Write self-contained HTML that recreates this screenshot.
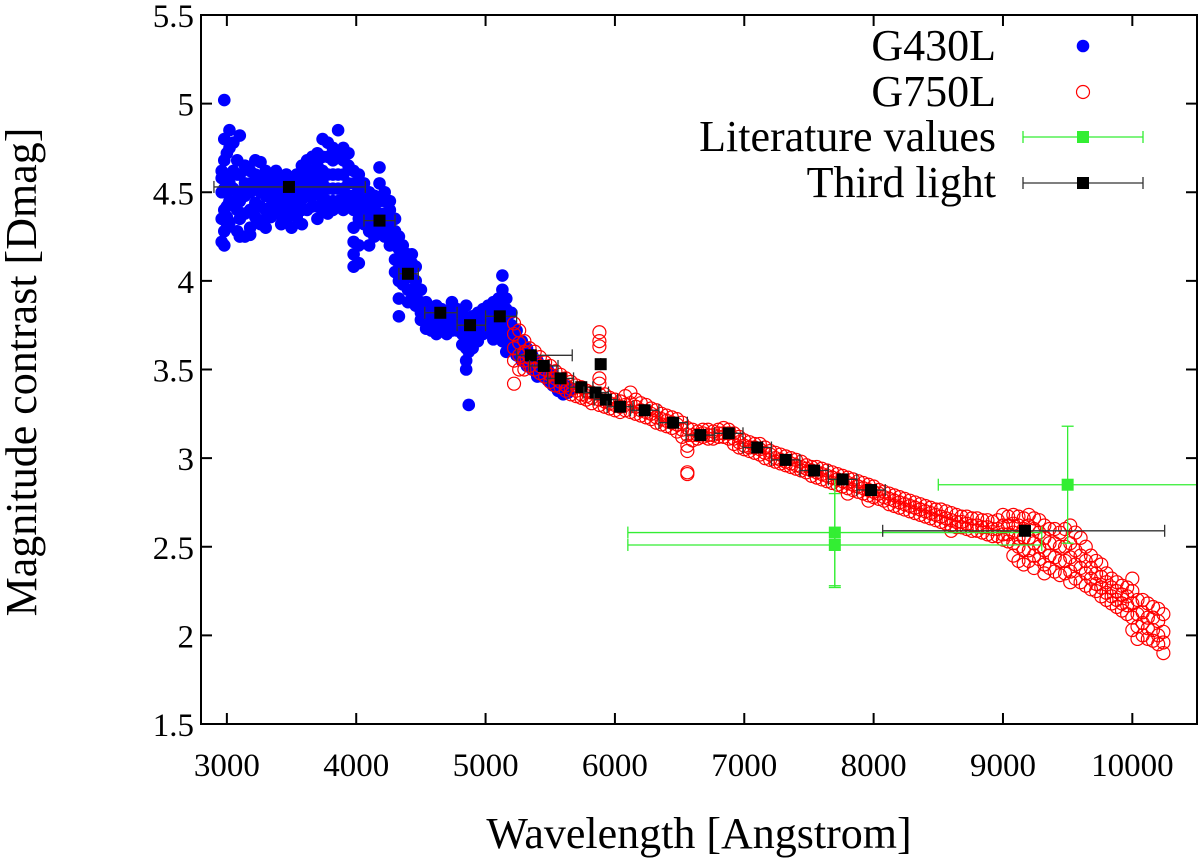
<!DOCTYPE html>
<html><head><meta charset="utf-8">
<style>
html,body{margin:0;padding:0;background:#fff;}
svg{display:block;font-family:"Liberation Serif",serif;}
</style></head>
<body>
<svg id="chart" width="1200" height="865" viewBox="0 0 1200 865" xmlns="http://www.w3.org/2000/svg">
<g id="marks"></g>
<g id="axes"></g>
<g id="legend"></g>
</svg>
<script>
const xTicks=[3000,4000,5000,6000,7000,8000,9000,10000];
const yTicks=[1.5,2,2.5,3,3.5,4,4.5,5,5.5];
const blueCols=[
[2960,4.22,4.35,4.5,4.62,4.58],[2980,5.02,4.8,4.68,4.52,4.4,4.28,4.2],[3000,4.72,4.6,4.5,4.42,4.36,4.3],
[3020,4.85,4.75,4.55,4.45,4.33],[3050,4.78,4.62,4.52,4.44],[3080,4.68,4.6,4.5,4.4,4.28],
[3100,4.82,4.6,4.5,4.45,4.35,4.25],[3140,4.65,4.55,4.48,4.38,4.25],[3180,4.62,4.55,4.5,4.4,4.3,4.26],
[3220,4.68,4.6,4.52,4.44,4.36],[3260,4.67,4.58,4.5,4.42,4.32],[3300,4.62,4.55,4.48,4.4,4.35,4.3],
[3340,4.6,4.55,4.5,4.42,4.36],[3380,4.62,4.56,4.5,4.45,4.38],[3420,4.58,4.52,4.47,4.4,4.32],
[3460,4.6,4.54,4.48,4.42,4.35],[3500,4.57,4.52,4.46,4.4,4.3],[3540,4.6,4.55,4.5,4.43,4.36],
[3580,4.65,4.58,4.52,4.46,4.4,4.32],[3620,4.68,4.6,4.54,4.48,4.4],[3660,4.7,4.62,4.55,4.48,4.42],
[3700,4.72,4.65,4.58,4.5,4.42,4.35],[3740,4.8,4.7,4.62,4.55,4.47,4.4],[3780,4.78,4.7,4.6,4.52,4.45,4.38],
[3820,4.75,4.68,4.6,4.52,4.45,4.4],[3860,4.85,4.7,4.6,4.52,4.45,4.42],[3900,4.75,4.68,4.6,4.52,4.46,4.4],
[3940,4.72,4.65,4.55,4.48,4.42],[3980,4.62,4.55,4.48,4.4,4.3,4.22,4.15,4.08],[4020,4.6,4.52,4.45,4.4,4.35,4.2,4.1],
[4060,4.55,4.5,4.45,4.4,4.32],[4100,4.5,4.45,4.4,4.35,4.28,4.2],[4140,4.48,4.42,4.38,4.32,4.25],
[4180,4.64,4.55,4.45,4.38,4.3],[4220,4.5,4.45,4.38,4.3,4.25],[4260,4.45,4.4,4.33,4.26,4.2],
[4300,4.35,4.28,4.2,4.12,4.05],[4330,4.25,4.18,4.1,4.0,3.9,3.8],[4360,4.2,4.12,4.05,3.98],
[4400,4.15,4.08,4.02,3.95,3.88],[4430,4.15,4.1,4.02,3.95,3.9],[4460,4.08,4.0,3.93,3.86],
[4500,3.95,3.88,3.82,3.78],[4540,3.88,3.84,3.8,3.76,3.73],[4580,3.85,3.8,3.76,3.72],
[4620,3.86,3.82,3.78,3.74,3.7],[4660,3.84,3.8,3.76,3.72],[4700,3.83,3.78,3.74,3.7],
[4740,3.88,3.82,3.78,3.74,3.72],[4780,3.84,3.8,3.76,3.72],[4820,3.82,3.76,3.7,3.64],
[4850,3.86,3.78,3.7,3.62,3.55,3.5],[4870,3.75,3.65,3.6,3.3],[4900,3.8,3.74,3.68,3.62],
[4940,3.82,3.78,3.72,3.66],[4980,3.84,3.8,3.74,3.7],[5020,3.86,3.8,3.76,3.72],
[5060,3.88,3.82,3.76,3.72,3.67],[5100,3.9,3.85,3.8,3.75,3.7],[5130,4.03,3.95,3.88,3.8,3.74,3.66],
[5160,3.9,3.84,3.78,3.72,3.65,3.6],[5200,3.82,3.75,3.7,3.62],[5240,3.72,3.67,3.62,3.58],
[5280,3.66,3.62,3.58,3.55],[5320,3.62,3.58,3.55,3.52],[5360,3.58,3.55,3.52,3.5],
[5400,3.55,3.52,3.49,3.46],[5440,3.52,3.49,3.46],[5480,3.5,3.47,3.44],[5520,3.47,3.44,3.41],
[5560,3.44,3.41,3.38],[5600,3.42,3.39,3.36],[5640,3.4,3.37]];
const redCols=[
[5220,3.76,3.7,3.62,3.55,3.42],[5260,3.72,3.65,3.58,3.5],[5300,3.66,3.6,3.55,3.5],[5340,3.62,3.57,3.52],
[5380,3.6,3.55,3.5],[5420,3.57,3.52,3.48],[5460,3.54,3.5,3.46],[5500,3.52,3.47,3.43],[5540,3.49,3.45,3.41],
[5580,3.47,3.43,3.4],[5620,3.45,3.41,3.38],[5660,3.43,3.39,3.36],[5700,3.41,3.38,3.35],[5740,3.4,3.36,3.34],
[5780,3.38,3.35,3.33],[5820,3.37,3.34,3.31],[5880,3.71,3.66,3.63,3.45,3.42,3.36,3.33,3.3],[5920,3.36,3.32,3.29],
[5960,3.34,3.31,3.28],[6000,3.33,3.3,3.27],[6040,3.32,3.29,3.26],[6080,3.35,3.3,3.27],[6120,3.37,3.31,3.26],
[6160,3.33,3.29,3.25],[6200,3.31,3.27,3.24],[6240,3.3,3.26,3.23],[6280,3.28,3.25,3.22],[6320,3.27,3.23,3.2],
[6360,3.25,3.22,3.19],[6400,3.24,3.21,3.18],[6440,3.23,3.2,3.17],[6480,3.22,3.19,3.15],[6520,3.2,3.16,3.12],
[6560,3.17,3.13,3.07,3.04,2.92,2.91],[6600,3.16,3.13,3.1],[6640,3.15,3.13,3.11],[6680,3.16,3.14,3.12],
[6720,3.16,3.13,3.11],[6760,3.15,3.13,3.11],[6800,3.16,3.14,3.12],[6840,3.17,3.14,3.12],[6880,3.16,3.14,3.11],
[6920,3.14,3.11,3.08],[6960,3.12,3.09,3.06],[7000,3.1,3.07,3.05],[7040,3.09,3.06,3.04],[7080,3.08,3.06,3.03],
[7120,3.08,3.05,3.02],[7160,3.06,3.03,3.0],[7200,3.04,3.02,2.99],[7240,3.03,3.0,2.98],[7280,3.02,2.99,2.97],
[7320,3.01,2.98,2.96],[7360,3.0,2.97,2.95],[7400,2.99,2.96,2.94],[7440,2.98,2.95,2.93],[7480,2.96,2.94,2.92],
[7520,2.95,2.93,2.9],[7560,2.95,2.92,2.89],[7600,2.94,2.91,2.88],[7640,2.93,2.9,2.87],[7680,2.92,2.89,2.86],
[7720,2.91,2.88,2.85],[7760,2.9,2.87,2.84],[7800,2.89,2.86,2.83,2.8],[7840,2.88,2.85,2.82],[7880,2.87,2.84,2.81],
[7920,2.86,2.83,2.8],[7960,2.85,2.82,2.79,2.76],[8000,2.84,2.81,2.78],[8040,2.82,2.8,2.77],[8080,2.81,2.78,2.76],
[8120,2.8,2.77,2.74],[8160,2.79,2.76,2.73],[8200,2.78,2.75,2.72],[8240,2.77,2.74,2.71],[8280,2.76,2.73,2.7],
[8320,2.75,2.72,2.69],[8360,2.74,2.71,2.68],[8400,2.73,2.7,2.67],[8440,2.72,2.69,2.66],[8480,2.71,2.68,2.65],
[8520,2.71,2.67,2.64],[8560,2.7,2.66,2.63],[8600,2.69,2.65,2.62,2.59],[8640,2.68,2.64,2.61],[8680,2.67,2.64,2.61],
[8720,2.67,2.63,2.6],[8760,2.66,2.62,2.59],[8800,2.66,2.62,2.59],[8840,2.65,2.61,2.58],[8880,2.65,2.61,2.57],
[8920,2.64,2.6,2.56],[8960,2.65,2.6,2.56],[9000,2.68,2.62,2.57,2.54],[9040,2.67,2.62,2.57,2.53],
[9080,2.68,2.63,2.58,2.52,2.45],[9120,2.67,2.62,2.55,2.5,2.42],[9160,2.66,2.6,2.55,2.48,2.4],
[9200,2.68,2.62,2.55,2.48,2.42],[9240,2.66,2.6,2.52,2.45,2.38],[9280,2.65,2.58,2.5,2.43],
[9320,2.62,2.55,2.48,2.4,2.35],[9360,2.6,2.52,2.45,2.38],[9400,2.6,2.52,2.44,2.36],[9440,2.58,2.5,2.42,2.34],
[9480,2.6,2.5,2.42,2.35],[9520,2.62,2.52,2.44,2.36,2.3],[9560,2.58,2.48,2.4,2.32],[9600,2.55,2.45,2.38,2.3],
[9640,2.5,2.42,2.35,2.28],[9680,2.45,2.38,2.32,2.26],[9720,2.42,2.35,2.29,2.25],[9760,2.4,2.33,2.27,2.22],
[9800,2.35,2.3,2.24,2.2],[9840,2.32,2.27,2.22,2.18],[9880,2.3,2.25,2.2,2.16],[9920,2.28,2.23,2.18,2.14],
[9960,2.27,2.22,2.17,2.12],[10000,2.32,2.25,2.18,2.1,2.03],[10040,2.2,2.12,2.05,1.98],[10080,2.2,2.13,2.07,2.0],
[10120,2.18,2.1,2.04,1.98],[10160,2.16,2.1,2.03,1.97],[10200,2.15,2.08,2.0,1.95],[10240,2.12,2.02,1.96,1.9]];
const thirdX=[3480,4180,4400,4650,4880,5110,5350,5450,5580,5740,5850,5890,5930,6040,6230,6450,6660,6880,7100,7320,7540,7760,7980,9170];
const thirdY=[4.53,4.34,4.04,3.82,3.75,3.80,3.58,3.52,3.45,3.40,3.37,3.53,3.33,3.29,3.27,3.20,3.13,3.14,3.06,2.99,2.93,2.88,2.82,2.59];
const thirdXlo=[2900,4060,4330,4530,4780,5000,5240,5340,5480,5650,5760,5890,5840,5940,6120,6340,6550,6770,6990,7210,7430,7650,7870,8070];
const thirdXhi=[4070,4300,4480,4780,5000,5240,5670,5560,5680,5830,5950,5890,6020,6140,6340,6560,6770,6990,7210,7430,7650,7870,8090,10250];
const litX=[7700,7700,9500];
const litY=[2.58,2.51,2.85];
const litXlo=[6100,6100,8500];
const litXhi=[9300,9300,10600];
const litYlo=[2.28,2.27,2.52];
const litYhi=[2.88,2.80,3.18];

const NS="http://www.w3.org/2000/svg";
const L=201,R=1197,T=15,B=724;
const X0=2800,X1=10500,Y0=1.5,Y1=5.5;
function sx(v){return L+(v-X0)/(X1-X0)*(R-L);}
function sy(v){return B-(v-Y0)/(Y1-Y0)*(B-T);}
function mk(tag,attrs,parent){const e=document.createElementNS(NS,tag);for(const k in attrs)e.setAttribute(k,attrs[k]);parent.appendChild(e);return e;}
const marks=document.getElementById('marks');
const axes=document.getElementById('axes');
const legend=document.getElementById('legend');

const defs=mk('defs',{},marks);
const cp=mk('clipPath',{id:'clip'},defs);
mk('rect',{x:L,y:T,width:R-L,height:B-T},cp);
const gBlue=mk('g',{'clip-path':'url(#clip)'},marks);


blueCols.forEach(col=>{for(let i=1;i<col.length;i++){
  const c=mk('circle',{cx:sx(col[0]),cy:sy(col[i]),r:6.3,fill:'#0000ff'},gBlue);
  
  
}});
const gRed=mk('g',{'clip-path':'url(#clip)'},marks);


redCols.forEach(col=>{for(let i=1;i<col.length;i++){
  const c=mk('circle',{cx:sx(col[0]),cy:sy(col[i]),r:6.5,fill:'none',stroke:'#ff0000','stroke-width':1.2},gRed);
  
  
}});
function errbar(g,x,y,xlo,xhi,ylo,yhi,color,sz,name){
  const px=sx(x),py=sy(y);
  mk('line',{x1:sx(xlo),x2:Math.min(sx(xhi),R),y1:py,y2:py,stroke:color,'stroke-width':1.3},g);
  mk('line',{x1:sx(xlo),x2:sx(xlo),y1:py-6,y2:py+6,stroke:color,'stroke-width':1.3},g);
  if(sx(xhi)<=R) mk('line',{x1:sx(xhi),x2:sx(xhi),y1:py-6,y2:py+6,stroke:color,'stroke-width':1.3},g);
  if(ylo!==null){
    mk('line',{x1:px,x2:px,y1:sy(ylo),y2:sy(yhi),stroke:color,'stroke-width':1.3},g);
    mk('line',{x1:px-6,x2:px+6,y1:sy(ylo),y2:sy(ylo),stroke:color,'stroke-width':1.3},g);
    mk('line',{x1:px-6,x2:px+6,y1:sy(yhi),y2:sy(yhi),stroke:color,'stroke-width':1.3},g);
  }
  const r=mk('rect',{x:px-sz/2,y:py-sz/2,width:sz,height:sz,fill:color==='#333'?'#000':color},g);
  
  
}
const gLit=mk('g',{},marks);


litX.forEach((x,i)=>errbar(gLit,x,litY[i],litXlo[i],litXhi[i],litYlo[i],litYhi[i],'#33ee33',12,'literature-point'));
const gThird=mk('g',{},marks);


thirdX.forEach((x,i)=>errbar(gThird,x,thirdY[i],thirdXlo[i],thirdXhi[i],null,null,'#333',12,'third-light-point'));

const fr=mk('rect',{x:L,y:T,width:R-L,height:B-T,fill:'none',stroke:'#000','stroke-width':2},axes);


xTicks.forEach(v=>{const x=sx(v);
  mk('line',{x1:x,x2:x,y1:B,y2:B-11,stroke:'#000','stroke-width':2},axes);
  mk('line',{x1:x,x2:x,y1:T,y2:T+11,stroke:'#000','stroke-width':2},axes);
  const t=mk('text',{x:x,y:B+52,'text-anchor':'middle','font-size':33},axes);t.textContent=v;
  
  
});
yTicks.forEach(v=>{const y=sy(v);
  mk('line',{x1:L,x2:L+11,y1:y,y2:y,stroke:'#000','stroke-width':2},axes);
  mk('line',{x1:R,x2:R-11,y1:y,y2:y,stroke:'#000','stroke-width':2},axes);
  const t=mk('text',{x:L-7,y:y+12,'text-anchor':'end','font-size':33},axes);t.textContent=v;
  
  
});
const xt=mk('text',{x:699,y:848,'text-anchor':'middle','font-size':44},axes);xt.textContent='Wavelength [Angstrom]';


const yt=mk('text',{x:0,y:0,'text-anchor':'middle','font-size':44,transform:'translate(36,372) rotate(-90)'},axes);yt.textContent='Magnitude contrast [Dmag]';



const legY=[46,92,137,183];
const legT=['G430L','G750L','Literature values','Third light'];
legT.forEach((s,i)=>{
  const t=mk('text',{x:996,y:legY[i]+14,'text-anchor':'end','font-size':44},legend);t.textContent=s;
  
  
});
mk('circle',{cx:1083,cy:legY[0],r:6.3,fill:'#0000ff'},legend);
mk('circle',{cx:1083,cy:legY[1],r:6.5,fill:'none',stroke:'#ff0000','stroke-width':1.2},legend);
[['#33ee33',2],['#333',3]].forEach(([c,i])=>{
  const y=legY[i];
  mk('line',{x1:1023,x2:1143,y1:y,y2:y,stroke:c,'stroke-width':1.3},legend);
  mk('line',{x1:1023,x2:1023,y1:y-6,y2:y+6,stroke:c,'stroke-width':1.3},legend);
  mk('line',{x1:1143,x2:1143,y1:y-6,y2:y+6,stroke:c,'stroke-width':1.3},legend);
  mk('rect',{x:1077,y:y-6,width:12,height:12,fill:c==='#333'?'#000':c},legend);
});
</script>
</body></html>
